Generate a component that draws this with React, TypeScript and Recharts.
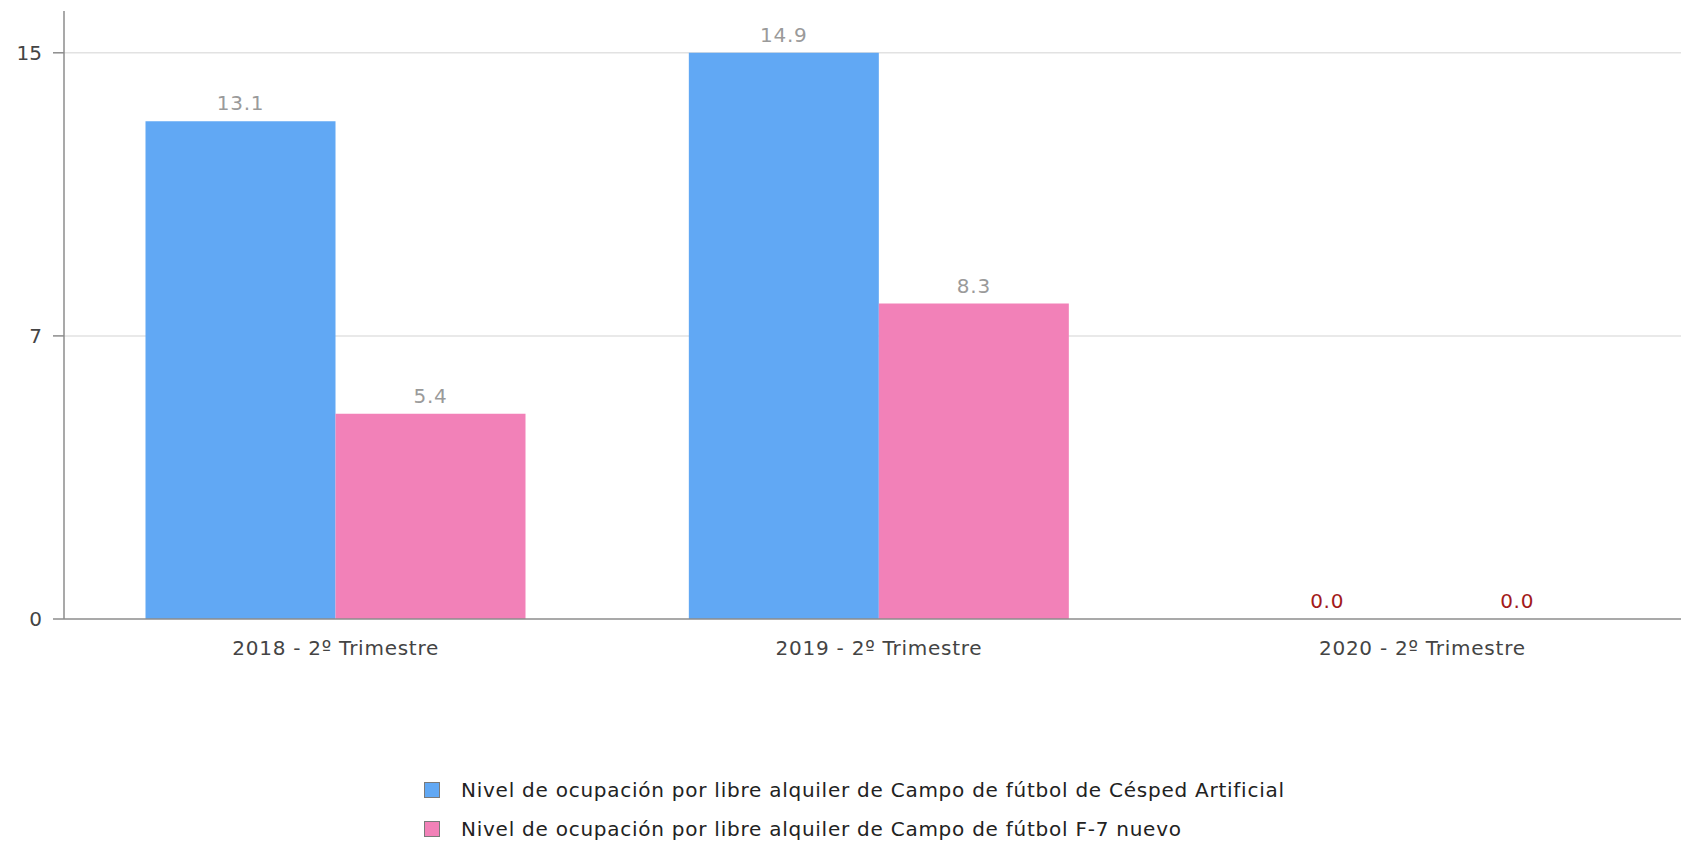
import React from "react";
import { BarChart, Bar, XAxis, YAxis, CartesianGrid, LabelList } from "recharts";

const categories = ["2018 - 2º Trimestre", "2019 - 2º Trimestre", "2020 - 2º Trimestre"];
const cespedValues = [13.1, 14.9, 0.0];
const f7Values = [5.4, 8.3, 0.0];
const seriesNames = [
  "Nivel de ocupación por libre alquiler de Campo de fútbol de Césped Artificial",
  "Nivel de ocupación por libre alquiler de Campo de fútbol F-7 nuevo",
];
const seriesColors = ["#61a8f4", "#f281b8"];
const yTicks = [0, 7.45, 14.9];
const yMax = 16;

const data = categories.map((name, i) => ({
  name,
  cesped: cespedValues[i],
  f7: f7Values[i],
}));

const FONT = "'DejaVu Sans', sans-serif";
const LS = 0.75;

function ValueLabel(props: any) {
  const { x, y, width, value } = props;
  if (value == null) return null;
  const v = Number(value);
  return (
    <text
      x={x + width / 2}
      y={y - 11}
      textAnchor="middle"
      fontSize={20}
      fontFamily={FONT}
      letterSpacing={LS}
      fill={v === 0 ? "#a31a1a" : "#9a9a9a"}
    >
      {v.toFixed(1)}
    </text>
  );
}

// grid lines only at the non-zero y ticks (linear domain 0..yMax over the plot area)
const gridLines = (props: any) => {
  const off = props && props.offset;
  if (!off) return [];
  return yTicks
    .filter((t) => t > 0)
    .map((t) => off.top + off.height * (1 - t / yMax));
};

export default function App() {
  return (
    <div
      style={{
        position: "absolute",
        left: 0,
        top: 0,
        width: 1681,
        height: 843,
        overflow: "hidden",
        background: "#fff",
        fontFamily: FONT,
      }}
    >
      <BarChart
        width={1694}
        height={660}
        data={data}
        margin={{ top: 11, right: 0, left: 0, bottom: 0 }}
        barCategoryGap="15%"
        barGap={0}
      >
        <CartesianGrid
          vertical={false}
          stroke="#e2e2e2"
          strokeWidth={1.5}
          horizontalCoordinatesGenerator={gridLines}
        />
        <XAxis
          dataKey="name"
          height={41}
          tickLine={false}
          tickMargin={16}
          axisLine={{ stroke: "#8c8c8c", strokeWidth: 1.5 }}
          tick={{ fontSize: 20, fill: "#444", fontFamily: FONT, letterSpacing: LS }}
        />
        <YAxis
          width={64}
          domain={[0, yMax]}
          ticks={yTicks}
          interval={0}
          tickSize={11}
          tickMargin={11}
          tickFormatter={(v: number) => String(Math.round(v))}
          axisLine={{ stroke: "#8c8c8c", strokeWidth: 1.5 }}
          tickLine={{ stroke: "#8c8c8c", strokeWidth: 1.5 }}
          tick={{ fontSize: 20, fill: "#444", fontFamily: FONT }}
        />
        <Bar
          dataKey="cesped"
          name={seriesNames[0]}
          fill={seriesColors[0]}
          minPointSize={0.01}
          isAnimationActive={false}
        >
          <LabelList dataKey="cesped" content={<ValueLabel />} />
        </Bar>
        <Bar
          dataKey="f7"
          name={seriesNames[1]}
          fill={seriesColors[1]}
          minPointSize={0.01}
          isAnimationActive={false}
        >
          <LabelList dataKey="f7" content={<ValueLabel />} />
        </Bar>
      </BarChart>
      {seriesNames.map((n, i) => (
        <div
          key={n}
          style={{
            position: "absolute",
            left: 424,
            top: 779 + i * 39,
            height: 22,
            display: "flex",
            alignItems: "center",
            fontSize: 20,
            letterSpacing: LS,
            color: "#222",
            whiteSpace: "nowrap",
          }}
        >
          <span
            style={{
              display: "inline-block",
              width: 14,
              height: 14,
              background: seriesColors[i],
              border: "1px solid #7a7a7a",
              marginRight: 21,
            }}
          />
          {n}
        </div>
      ))}
    </div>
  );
}
